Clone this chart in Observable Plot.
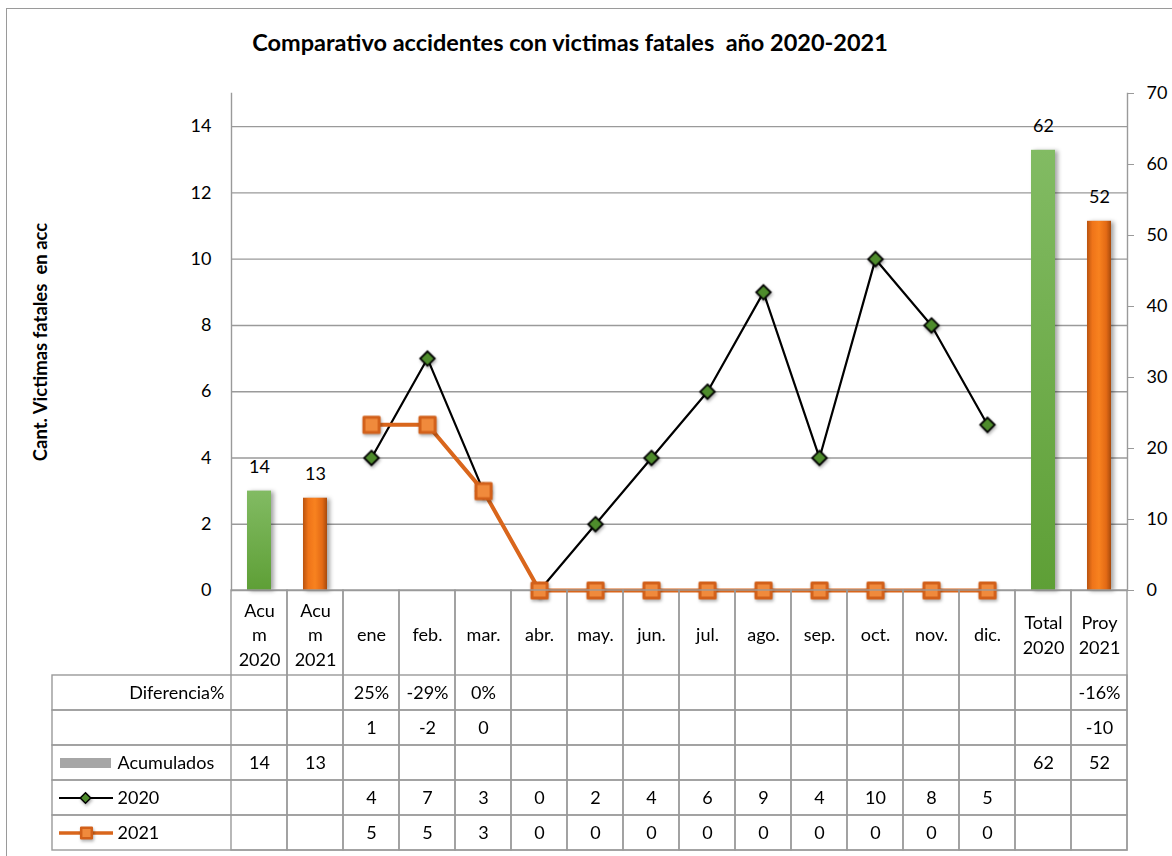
<!DOCTYPE html>
<html>
<head>
<meta charset="utf-8">
<script src="https://cdn.jsdelivr.net/npm/d3@7"></script>
<script src="https://cdn.jsdelivr.net/npm/@observablehq/plot@0.6"></script>
<style>
  body { margin: 0; background: #fff; }
  #wrap { position: relative; width: 1172px; height: 856px; overflow: hidden; background: #fff;
          font-family: Lato, "Open Sans", sans-serif; color: #000; }
  #border { position: absolute; left: 6px; top: 8px; width: 1300px; height: 1000px; border: 1.5px solid #9a9a9a; }
  #title { position: absolute; top: 28px; left: 0; width: 1140px; text-align: center; font-weight: bold;
           font-size: 23.5px; line-height: 28px; white-space: pre; }
  #ytitle { position: absolute; left: 40px; top: 342px; transform: translate(-50%, -50%) rotate(-90deg);
            white-space: pre; font-weight: bold; font-size: 18.5px; }
  .layer { position: absolute; left: 0; }
  g[aria-label="bar"] { filter: drop-shadow(3px 1px 2px rgba(0,0,0,0.35)); }
  g[aria-label="dot"] { filter: drop-shadow(1px 2px 1.5px rgba(0,0,0,0.3)); }
</style>
</head>
<body>
<svg width="0" height="0" style="position:absolute">
  <defs>
    <linearGradient id="gGreen" x1="0" y1="0" x2="0" y2="1">
      <stop offset="0" stop-color="#82bb63"/>
      <stop offset="1" stop-color="#5e9f36"/>
    </linearGradient>
    <linearGradient id="gOrange" x1="0" y1="0" x2="1" y2="0">
      <stop offset="0" stop-color="#b9530f"/>
      <stop offset="0.22" stop-color="#ef7419"/>
      <stop offset="0.5" stop-color="#f8821f"/>
      <stop offset="0.8" stop-color="#e36a15"/>
      <stop offset="1" stop-color="#a84a0c"/>
    </linearGradient>
  </defs>
</svg>
<div id="wrap">
  <div id="border"></div>
  <div id="title">Comparativo accidentes con victimas fatales  año 2020-2021</div>
  <div id="ytitle">Cant. Victimas fatales  en acc</div>
</div>
<script>
// ---- data ----
const categories = ["Acum 2020", "Acum 2021", "ene", "feb.", "mar.", "abr.", "may.", "jun.",
                    "jul.", "ago.", "sep.", "oct.", "nov.", "dic.", "Total 2020", "Proy 2021"];
const categoryLabels = ["Acu\nm\n2020", "Acu\nm\n2021", "ene", "feb.", "mar.", "abr.", "may.", "jun.",
                        "jul.", "ago.", "sep.", "oct.", "nov.", "dic.", "Total\n2020", "Proy\n2021"];
const months = ["ene", "feb.", "mar.", "abr.", "may.", "jun.", "jul.", "ago.", "sep.", "oct.", "nov.", "dic."];
const values2020 = [4, 7, 3, 0, 2, 4, 6, 9, 4, 10, 8, 5];
const values2021 = [5, 5, 3, 0, 0, 0, 0, 0, 0, 0, 0, 0];
const acumCategories = ["Acum 2020", "Acum 2021", "Total 2020", "Proy 2021"];
const acumYears = ["2020", "2021", "2020", "2021"];
const acumValues = [14, 13, 62, 52];
const diffCategories = ["ene", "feb.", "mar.", "Proy 2021"];
const diffPctLabels = ["25%", "-29%", "0%", "-16%"];
const diffAbsValues = [1, -2, 0, -10];
const rowKeys = ["pct", "abs", "acum", "s2020", "s2021"];
const rowLabels = ["Diferencia%", "", "Acumulados", "2020", "2021"];
const leftTicks = [0, 2, 4, 6, 8, 10, 12, 14];
const rightTicks = [0, 10, 20, 30, 40, 50, 60, 70];
const leftDomain = [0, 15];
const rightDomain = [0, 70];

// ---- derived ----
const toLeft = d3.scaleLinear(rightDomain, leftDomain);
const acum = acumCategories.map((c, i) => ({cat: c, year: acumYears[i], value: acumValues[i]}));
const s2020 = months.map((m, i) => ({cat: m, value: values2020[i]}));
const s2021 = months.map((m, i) => ({cat: m, value: values2021[i]}));
const rowLabel = k => rowLabels[rowKeys.indexOf(k)];

// ---- styles ----
const C = {grid: "#9a9a9a", green: "#4e8c2c", orange: "#d9661c", orangeFill: "#f08a3c",
           orangeEdge: "#d2601a", key: "#a6a6a6"};
const fontFamily = 'Lato, "Open Sans", sans-serif';
const FS = 18;
const diamond = {draw(ctx, size) {
  const s = Math.sqrt(size / 2);
  ctx.moveTo(0, -s); ctx.lineTo(s, 0); ctx.lineTo(0, s); ctx.lineTo(-s, 0); ctx.closePath();
}};

const main = Plot.plot({
  width: 1172, height: 600,
  marginTop: 93, marginBottom: 10, marginLeft: 231, marginRight: 45,
  style: {fontFamily, fontSize: FS + "px", color: "#000", background: "transparent", overflow: "visible"},
  x: {type: "band", domain: categories, padding: 0, axis: null},
  y: {domain: leftDomain, axis: null},
  marks: [
    Plot.gridY(leftTicks, {stroke: C.grid, strokeOpacity: 1, strokeWidth: 1.4}),
    Plot.frame({anchor: "left", stroke: C.grid, strokeWidth: 1.4}),
    Plot.frame({anchor: "right", stroke: C.grid, strokeWidth: 1.4}),
    Plot.axisY(leftTicks, {anchor: "left", tickSize: 0, tickPadding: 20, label: null, fontSize: FS}),
    Plot.axisY(rightTicks.map(toLeft), {anchor: "right", tickSize: 6, tickPadding: 13, stroke: C.grid,
      label: null, fontSize: FS, tickFormat: d => String(Math.round(toLeft.invert(d)))}),
    Plot.barY(acum.filter(d => d.year === "2020"), {x: "cat", y: d => toLeft(d.value), fill: "url(#gGreen)", insetLeft: 16, insetRight: 16}),
    Plot.barY(acum.filter(d => d.year === "2021"), {x: "cat", y: d => toLeft(d.value), fill: "url(#gOrange)", insetLeft: 16, insetRight: 16}),
    Plot.text(acum, {x: "cat", y: d => toLeft(d.value), text: d => String(d.value), dy: -24, fontSize: FS}),
    Plot.line(s2020, {x: "cat", y: "value", stroke: "#000", strokeWidth: 2.2}),
    Plot.dot(s2020, {x: "cat", y: "value", symbol: diamond, r: 5.8, fill: C.green, stroke: "#000", strokeWidth: 1.8}),
    Plot.line(s2021, {x: "cat", y: "value", stroke: C.orange, strokeWidth: 4}),
    Plot.dot(s2021, {x: "cat", y: "value", symbol: "square", r: 8.6, fill: C.orangeFill, stroke: C.orangeEdge, strokeWidth: 3, strokeLinejoin: "round"})
  ]
});
main.classList.add("layer");
main.style.top = "0px";

const table = Plot.plot({
  width: 1172, height: 262,
  marginTop: 85, marginBottom: 2, marginLeft: 231, marginRight: 45,
  style: {fontFamily, fontSize: FS + "px", color: "#000", background: "transparent", overflow: "visible"},
  x: {type: "band", domain: categories, padding: 0, axis: null},
  y: {type: "band", domain: rowKeys, padding: 0, axis: null},
  marks: [
    Plot.cell(categories, {x: d => d, insetTop: -85, fill: "none", stroke: C.grid, strokeWidth: 1.4}),
    Plot.cell(rowKeys, {y: d => d, insetLeft: -179, fill: "none", stroke: C.grid, strokeWidth: 1.4}),
    Plot.text(categories, {x: d => d, text: (d, i) => categoryLabels[i], frameAnchor: "top", dy: -42,
      lineAnchor: "middle", lineHeight: 1.38, fontSize: FS}),
    // row headers
    Plot.text(["pct"], {y: d => d, text: rowLabel, frameAnchor: "left", textAnchor: "end", dx: -7, fontSize: FS}),
    Plot.text(["acum", "s2020", "s2021"], {y: d => d, text: rowLabel, frameAnchor: "left", textAnchor: "start", dx: -114, fontSize: FS}),
    // legend keys
    Plot.ruleY(["acum"], {y: d => d, stroke: C.key, strokeWidth: 10, insetLeft: -171, insetRight: 1016}),
    Plot.ruleY(["s2020"], {y: d => d, stroke: "#000", strokeWidth: 2, insetLeft: -172, insetRight: 1014}),
    Plot.dot(["s2020"], {y: d => d, frameAnchor: "left", dx: -146, symbol: diamond, r: 4.2, fill: C.green, stroke: "#000", strokeWidth: 1.5}),
    Plot.ruleY(["s2021"], {y: d => d, stroke: C.orange, strokeWidth: 3.5, insetLeft: -172, insetRight: 1014}),
    Plot.dot(["s2021"], {y: d => d, frameAnchor: "left", dx: -145, symbol: "square", r: 6, fill: C.orangeFill, stroke: C.orangeEdge, strokeWidth: 2.5, strokeLinejoin: "round"}),
    // values
    Plot.text(diffCategories, {x: d => d, y: () => "pct", text: (d, i) => diffPctLabels[i], fontSize: FS}),
    Plot.text(diffCategories, {x: d => d, y: () => "abs", text: (d, i) => String(diffAbsValues[i]), fontSize: FS}),
    Plot.text(acum, {x: "cat", y: () => "acum", text: d => String(d.value), fontSize: FS}),
    Plot.text(s2020, {x: "cat", y: () => "s2020", text: d => String(d.value), fontSize: FS}),
    Plot.text(s2021, {x: "cat", y: () => "s2021", text: d => String(d.value), fontSize: FS})
  ]
});
table.classList.add("layer");
table.style.top = "590px";

const wrap = document.getElementById("wrap");
wrap.appendChild(main);
wrap.appendChild(table);
</script>
</body>
</html>
